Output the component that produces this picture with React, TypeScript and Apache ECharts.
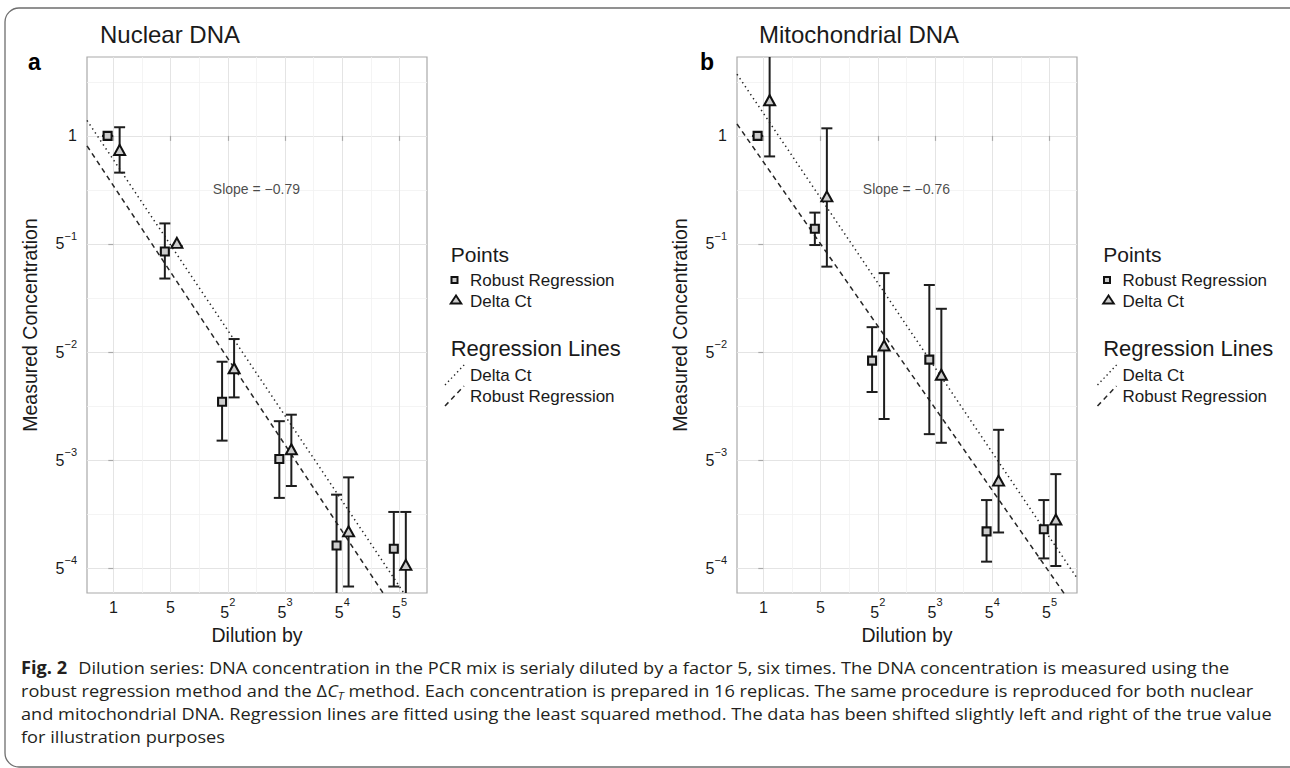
import React, { useEffect, useRef } from 'react';
import * as echarts from 'echarts';

// ---------- data (all y values are log5 of measured concentration) ----------
const DILUTION_EXP = [0, 1, 2, 3, 4, 5];
const X_TICKS = [0, 1, 2, 3, 4, 5];
const X_MINOR = [0.5, 1.5, 2.5, 3.5, 4.5];
const Y_TICKS = [-4, -3, -2, -1, 0];
const Y_MINOR = [-3.5, -2.5, -1.5, -0.5, 0.5];
const X_MIN = -0.46;
const X_MAX = 5.48;
const Y_MIN = -4.23;
const Y_MAX = 0.73;
const SHIFT_ROBUST = -0.1;
const SHIFT_DELTA = 0.11;

// Nuclear DNA
const NUC_ROBUST_MEAN = [0, -1.07, -2.46, -2.99, -3.79, -3.82];
const NUC_ROBUST_LOW = [0, -1.32, -2.82, -3.35, -4.6, -4.17];
const NUC_ROBUST_HIGH = [0, -0.81, -2.09, -2.64, -3.32, -3.48];
const NUC_DELTA_MEAN = [-0.13, -0.99, -2.15, -2.9, -3.66, -3.97];
const NUC_DELTA_LOW = [-0.34, -1.02, -2.42, -3.24, -4.17, -4.6];
const NUC_DELTA_HIGH = [0.08, -1.02, -1.88, -2.58, -3.16, -3.48];

// Mitochondrial DNA
const MIT_ROBUST_MEAN = [0, -0.86, -2.08, -2.07, -3.66, -3.64];
const MIT_ROBUST_LOW = [0, -1.01, -2.37, -2.76, -3.94, -3.91];
const MIT_ROBUST_HIGH = [0, -0.71, -1.77, -1.38, -3.37, -3.37];
const MIT_DELTA_MEAN = [0.33, -0.56, -1.94, -2.21, -3.19, -3.55];
const MIT_DELTA_LOW = [-0.19, -1.21, -2.62, -2.84, -3.67, -3.98];
const MIT_DELTA_HIGH = [0.95, 0.07, -1.27, -1.6, -2.72, -3.13];

// Regression lines [nuclear, mitochondrial]
const DELTA_LINE_INTERCEPT = [-0.22, 0.21];
const DELTA_LINE_SLOPE = [-0.79, -0.785];
const ROBUST_LINE_INTERCEPT = [-0.46, -0.24];
const ROBUST_LINE_SLOPE = [-0.8, -0.76];

const PANEL_TITLES = ['Nuclear DNA', 'Mitochondrial DNA'];
const PANEL_TAGS = ['a', 'b'];
const SLOPE_LABELS = ['Slope = \u22120.79', 'Slope = \u22120.76'];
const SLOPE_AT = [2.5, -0.49];

const LEGEND_POINTS_TITLE = 'Points';
const LEGEND_LINES_TITLE = 'Regression Lines';
const LEGEND_POINT_NAMES = ['Robust Regression', 'Delta Ct'];
const LEGEND_LINE_NAMES = ['Delta Ct', 'Robust Regression'];

const CAPTION_BOLD = 'Fig. 2';
const CAPTION_L1 = 'Dilution series: DNA concentration in the PCR mix is serialy diluted by a factor 5, six times. The DNA concentration is measured using the';
const CAPTION_L2A = 'robust regression method and the \u0394';
const CAPTION_L2B = ' method. Each concentration is prepared in 16 replicas. The same procedure is reproduced for both nuclear';
const CAPTION_L3 = 'and mitochondrial DNA. Regression lines are fitted using the least squared method. The data has been shifted slightly left and right of the true value';
const CAPTION_L4 = 'for illustration purposes';

// ---------- styling ----------
const FONT = 'Liberation Sans, Arial, Helvetica, sans-serif';
const CAP_FONT = 'Open Sans, Noto Sans, sans-serif';
const INK = '#1a1a1a';
const BAR = '#1e1e1e';
const BORDER = '#a9a9a9';
const MARK_FILL = '#cccccc';
const GRID_LEFTS = [87, 737];
const GRID_TOP = 57;
const GRID_W = 340;
const GRID_H = 536;

function measure(text: string, font: string): number {
  const ctx = document.createElement('canvas').getContext('2d');
  if (!ctx) return text.length * 8;
  ctx.font = font;
  return ctx.measureText(text).width;
}

function xLabel(v: number) {
  const n = Math.round(v);
  if (n === 0) return '{p|1}';
  if (n === 1) return '{p|5}';
  return '{b|5}{s|' + n + '}';
}
function yLabel(v: number) {
  const n = Math.round(v);
  if (n === 0) return '{p|1}';
  return '{b|5}{s|\u2212' + -n + '}';
}

function errorBarSeries(name: string, g: number, xs: number[], lo: number[], hi: number[]) {
  return {
    type: 'custom',
    name,
    xAxisIndex: 2 * g + 1,
    yAxisIndex: 2 * g + 1,
    clip: true,
    silent: true,
    z: 3,
    encode: { x: 0, y: [1, 2] },
    data: xs.map((x, i) => [x, lo[i], hi[i]]),
    renderItem: (params: any, api: any) => {
      const x = api.value(0);
      const pLo = api.coord([x, api.value(1)]);
      const pHi = api.coord([x, api.value(2)]);
      const w = 5.5;
      const st = { stroke: BAR, lineWidth: 2 };
      return {
        type: 'group',
        children: [
          { type: 'line', shape: { x1: pLo[0], y1: pLo[1], x2: pHi[0], y2: pHi[1] }, style: st },
          { type: 'line', shape: { x1: pLo[0] - w, y1: pLo[1], x2: pLo[0] + w, y2: pLo[1] }, style: st },
          { type: 'line', shape: { x1: pHi[0] - w, y1: pHi[1], x2: pHi[0] + w, y2: pHi[1] }, style: st },
        ],
      };
    },
  };
}

function regressionSeries(name: string, g: number, a: number, b: number, dash: number[]) {
  return {
    type: 'line',
    name,
    xAxisIndex: 2 * g + 1,
    yAxisIndex: 2 * g + 1,
    clip: true,
    silent: true,
    showSymbol: false,
    symbol: 'none',
    z: 2,
    lineStyle: { color: '#262626', width: 1.5, type: dash },
    data: [X_MIN, X_MAX].map((x) => [x, a + b * x]),
  };
}

function buildOption() {
  const panels = [
    {
      rMean: NUC_ROBUST_MEAN, rLo: NUC_ROBUST_LOW, rHi: NUC_ROBUST_HIGH,
      dMean: NUC_DELTA_MEAN, dLo: NUC_DELTA_LOW, dHi: NUC_DELTA_HIGH,
    },
    {
      rMean: MIT_ROBUST_MEAN, rLo: MIT_ROBUST_LOW, rHi: MIT_ROBUST_HIGH,
      dMean: MIT_DELTA_MEAN, dLo: MIT_DELTA_LOW, dHi: MIT_DELTA_HIGH,
    },
  ];

  const grid: any[] = [];
  const xAxis: any[] = [];
  const yAxis: any[] = [];
  const series: any[] = [];

  const xRich = {
    p: { fontSize: 16, lineHeight: 22, color: INK, fontFamily: FONT, verticalAlign: 'middle' },
    b: { fontSize: 16, lineHeight: 32, color: INK, fontFamily: FONT, verticalAlign: 'middle' },
    s: { fontSize: 11, lineHeight: 11, color: INK, fontFamily: FONT, verticalAlign: 'top' },
  };
  const yRich = {
    p: { fontSize: 16, lineHeight: 22, color: INK, fontFamily: FONT, verticalAlign: 'middle' },
    b: { fontSize: 16, lineHeight: 27, color: INK, fontFamily: FONT, verticalAlign: 'middle' },
    s: { fontSize: 11, lineHeight: 11, color: INK, fontFamily: FONT, verticalAlign: 'top' },
  };

  panels.forEach((p, g) => {
    grid.push({
      left: GRID_LEFTS[g], top: GRID_TOP, width: GRID_W, height: GRID_H,
      show: true, borderColor: BORDER, borderWidth: 1.2, backgroundColor: '#fff',
    });
    // minor grid axes
    xAxis.push({
      gridIndex: g, type: 'value', position: 'top', min: X_MIN, max: X_MAX,
      axisLine: { show: false }, axisTick: { show: false, customValues: X_MINOR },
      axisLabel: { show: false },
      splitLine: { show: true, lineStyle: { color: '#f1f1f1', width: 0.8 } },
    });
    xAxis.push({
      gridIndex: g, type: 'value', position: 'bottom', min: X_MIN, max: X_MAX,
      name: 'Dilution by', nameLocation: 'middle', nameGap: 31,
      nameTextStyle: { fontSize: 19.5, color: INK, fontFamily: FONT },
      axisLine: { show: false },
      axisTick: { show: true, customValues: X_TICKS, length: 5, lineStyle: { color: BORDER, width: 1.2 } },
      axisLabel: { customValues: X_TICKS, margin: 3.5, formatter: xLabel, rich: xRich },
      splitLine: { show: true, lineStyle: { color: '#e4e4e4', width: 1 } },
    });
    yAxis.push({
      gridIndex: g, type: 'value', position: 'right', min: Y_MIN, max: Y_MAX,
      axisLine: { show: false }, axisTick: { show: false, customValues: Y_MINOR },
      axisLabel: { show: false },
      splitLine: { show: true, lineStyle: { color: '#f1f1f1', width: 0.8 } },
    });
    yAxis.push({
      gridIndex: g, type: 'value', position: 'left', min: Y_MIN, max: Y_MAX,
      name: 'Measured Concentration', nameLocation: 'middle', nameGap: 47,
      nameTextStyle: { fontSize: 19.5, color: INK, fontFamily: FONT },
      axisLine: { show: false },
      axisTick: { show: true, customValues: Y_TICKS, length: 5, lineStyle: { color: BORDER, width: 1.2 } },
      axisLabel: { customValues: Y_TICKS, margin: 10, formatter: yLabel, rich: yRich },
      splitLine: { show: true, lineStyle: { color: '#e4e4e4', width: 1 } },
    });

    series.push(regressionSeries('Delta Ct line', g, DELTA_LINE_INTERCEPT[g], DELTA_LINE_SLOPE[g], [1.4, 3.4]));
    series.push(regressionSeries('Robust Regression line', g, ROBUST_LINE_INTERCEPT[g], ROBUST_LINE_SLOPE[g], [5, 4]));

    const xr = DILUTION_EXP.map((d) => d + SHIFT_ROBUST);
    const xd = DILUTION_EXP.map((d) => d + SHIFT_DELTA);
    series.push(errorBarSeries('Robust Regression error', g, xr, p.rLo, p.rHi));
    series.push(errorBarSeries('Delta Ct error', g, xd, p.dLo, p.dHi));

    series.push({
      type: 'scatter', name: 'Robust Regression',
      xAxisIndex: 2 * g + 1, yAxisIndex: 2 * g + 1, z: 4,
      symbol: 'rect', symbolSize: 8,
      itemStyle: { color: MARK_FILL, borderColor: '#111', borderWidth: 2.1, opacity: 1 },
      data: xr.map((x, i) => [x, p.rMean[i]]),
    });
    series.push({
      type: 'scatter', name: 'Delta Ct',
      xAxisIndex: 2 * g + 1, yAxisIndex: 2 * g + 1, z: 4,
      symbol: 'triangle', symbolSize: [11, 10],
      itemStyle: { color: MARK_FILL, borderColor: '#111', borderWidth: 2, opacity: 1 },
      data: xd.map((x, i) => [x, p.dMean[i]]),
    });
    series.push({
      type: 'scatter', name: 'slope',
      xAxisIndex: 2 * g + 1, yAxisIndex: 2 * g + 1, z: 5, silent: true,
      symbol: 'circle', symbolSize: 1, itemStyle: { color: 'transparent' },
      label: {
        show: true, position: 'inside', formatter: SLOPE_LABELS[g],
        fontSize: 14, color: INK, fontFamily: FONT,
      },
      data: [SLOPE_AT],
    });
  });

  // ---------- graphics: frame, titles, legends, caption ----------
  const graphic: any[] = [];
  graphic.push({
    type: 'rect', silent: true, z: 0,
    shape: { x: 5, y: 8, width: 1300, height: 759, r: 14 },
    style: { fill: 'none', stroke: '#6e6e6e', lineWidth: 1.3 },
  });

  const titleX = [100, 759];
  const tagX = [28, 700];
  const legendDx = [0, 652.5];
  [0, 1].forEach((g) => {
    graphic.push({
      type: 'text', x: titleX[g], y: 34,
      style: { text: PANEL_TITLES[g], fontSize: 24, fontFamily: FONT, fill: INK, verticalAlign: 'middle', align: 'left' },
    });
    graphic.push({
      type: 'text', x: tagX[g], y: 62,
      style: { text: PANEL_TAGS[g], fontSize: 23, fontWeight: 'bold', fontFamily: FONT, fill: '#000', verticalAlign: 'middle', align: 'left' },
    });
    const dx = legendDx[g];
    const lx = 450.7 + dx;
    const tx = 470 + dx;
    graphic.push({
      type: 'text', x: lx, y: 254,
      style: { text: LEGEND_POINTS_TITLE, fontSize: 21, fontFamily: FONT, fill: INK, verticalAlign: 'middle' },
    });
    graphic.push({
      type: 'rect', shape: { x: 451.5 + dx, y: 277, width: 6, height: 6 },
      style: { fill: MARK_FILL, stroke: '#111', lineWidth: 2 },
    });
    graphic.push({
      type: 'polygon', shape: { points: [[456 + dx, 295.5], [450.7 + dx, 303.5], [461.3 + dx, 303.5]] },
      style: { fill: MARK_FILL, stroke: '#111', lineWidth: 1.9 },
    });
    LEGEND_POINT_NAMES.forEach((nm, i) => {
      graphic.push({
        type: 'text', x: tx, y: 280 + i * 21,
        style: { text: nm, fontSize: 17, fontFamily: FONT, fill: INK, verticalAlign: 'middle' },
      });
    });
    graphic.push({
      type: 'text', x: lx, y: 348,
      style: { text: LEGEND_LINES_TITLE, fontSize: 22, fontFamily: FONT, fill: INK, verticalAlign: 'middle' },
    });
    graphic.push({
      type: 'line', shape: { x1: 445 + dx, y1: 385, x2: 465 + dx, y2: 364 },
      style: { stroke: '#262626', lineWidth: 1.4, lineDash: [1.4, 3] },
    });
    graphic.push({
      type: 'line', shape: { x1: 445 + dx, y1: 406, x2: 464 + dx, y2: 386 },
      style: { stroke: '#262626', lineWidth: 1.5, lineDash: [5, 4] },
    });
    LEGEND_LINE_NAMES.forEach((nm, i) => {
      graphic.push({
        type: 'text', x: tx, y: 375 + i * 21,
        style: { text: nm, fontSize: 17, fontFamily: FONT, fill: INK, verticalAlign: 'middle' },
      });
    });
  });

  // caption
  const capSize = 17;
  const capScale = 1251 / measure(CAPTION_L3, capSize + 'px "Open Sans"');
  const capRich = {
    fb: { fontSize: capSize, fontWeight: 'bold', fontFamily: CAP_FONT, fill: '#231f20', padding: [0, 6, 0, 0] },
    n: { fontSize: capSize, fontFamily: CAP_FONT, fill: '#231f20' },
    i: { fontSize: capSize, fontStyle: 'italic', fontFamily: CAP_FONT, fill: '#231f20' },
    sub: { fontSize: 11, fontStyle: 'italic', fontFamily: CAP_FONT, fill: '#231f20', lineHeight: 11, verticalAlign: 'bottom' },
  };
  const capLines = [
    '{fb|' + CAPTION_BOLD + '}{n| ' + CAPTION_L1 + '}',
    '{n|' + CAPTION_L2A + '}{i|C}{sub|T}{n|' + CAPTION_L2B + '}',
    '{n|' + CAPTION_L3 + '}',
    '{n|' + CAPTION_L4 + '}',
  ];
  const capY = [667, 690, 713, 736];
  capLines.forEach((t, i) => {
    graphic.push({
      type: 'text', x: 21, y: capY[i], scaleX: capScale,
      style: {
        text: t, rich: capRich, fontSize: capSize, fontFamily: CAP_FONT, fill: '#231f20',
        verticalAlign: 'middle', align: 'left', lineHeight: 22,
      },
    });
  });

  return {
    animation: false,
    backgroundColor: '#fff',
    textStyle: { fontFamily: FONT },
    grid,
    xAxis,
    yAxis,
    series,
    graphic,
  };
}

export default function App() {
  const ref = useRef<HTMLDivElement>(null);
  useEffect(() => {
    document.body.style.margin = '0';
    const chart = echarts.init(ref.current as HTMLDivElement, undefined, { renderer: 'svg' });
    chart.setOption(buildOption() as any);
    return () => chart.dispose();
  }, []);
  return <div ref={ref} style={{ width: 1290, height: 768 }} />;
}
